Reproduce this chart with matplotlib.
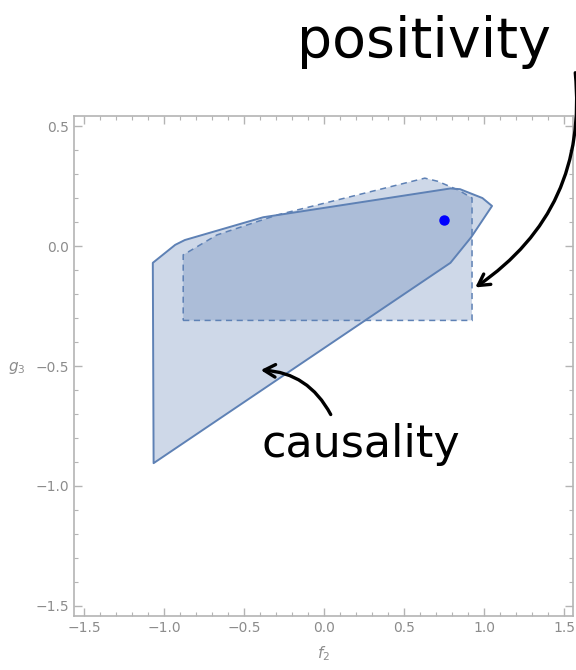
import matplotlib
matplotlib.use("Agg")
import matplotlib.pyplot as plt
from matplotlib.patches import Polygon
from matplotlib.ticker import MultipleLocator

# --- data ---
# causality region (solid outline)
causal_f2 = [-1.07, -0.93, -0.87, -0.38, 0.79, 0.85, 0.99, 1.05, 1.02, 0.92, 0.79, -1.065]
causal_g3 = [-0.07, 0.005, 0.025, 0.12, 0.24, 0.237, 0.20, 0.167, 0.137, 0.037, -0.07, -0.905]

# positivity region (dashed outline)
pos_f2 = [-0.88, 0.925, 0.925, 0.84, 0.71, 0.63, -0.29, -0.67, -0.88]
pos_g3 = [-0.31, -0.31, 0.20, 0.233, 0.27, 0.283, 0.13, 0.046, -0.037]

# marked point
pt_f2 = [0.75]
pt_g3 = [0.108]

edge = "#5e81b5"
gray = "#8c8c8c"
frame_col = "#b4b4b4"

fig = plt.figure(figsize=(5.76, 6.70), dpi=100)
ax = fig.add_axes([74 / 576, 54 / 670, 499 / 576, 500 / 670])

ax.add_patch(Polygon(list(zip(causal_f2, causal_g3)), closed=True,
                     facecolor=edge, alpha=0.3, edgecolor="none"))
ax.add_patch(Polygon(list(zip(pos_f2, pos_g3)), closed=True,
                     facecolor=edge, alpha=0.3, edgecolor="none"))
ax.add_patch(Polygon(list(zip(causal_f2, causal_g3)), closed=True,
                     fill=False, edgecolor=edge, lw=1.4, joinstyle="round"))
ax.add_patch(Polygon(list(zip(pos_f2, pos_g3)), closed=True,
                     fill=False, edgecolor=edge, lw=1.1, linestyle=(0, (4, 3))))
ax.plot(pt_f2, pt_g3, "o", color="#0000ff", markersize=6.5)

ax.set_xlim(-1.5625, 1.556)
ax.set_ylim(-1.542, 0.542)

ax.xaxis.set_major_locator(MultipleLocator(0.5))
ax.xaxis.set_minor_locator(MultipleLocator(0.1))
ax.yaxis.set_major_locator(MultipleLocator(0.5))
ax.yaxis.set_minor_locator(MultipleLocator(0.1))
ax.tick_params(which="both", direction="in", top=True, right=True,
               colors=frame_col, labelcolor=gray, labelsize=10)
ax.tick_params(which="major", length=6, width=1)
ax.tick_params(which="minor", length=3, width=0.8)
for s in ax.spines.values():
    s.set_color(frame_col)
    s.set_linewidth(1.2)

ax.set_xlabel("$f_2$", color=gray, fontsize=11, labelpad=7)
ax.set_ylabel("$g_3$", color=gray, fontsize=11, rotation=0)
ax.yaxis.set_label_coords(-0.115, 0.48)

# handwritten notes
fig.text(297, 628, "positivity", transform=None, fontsize=40, family="DejaVu Sans",
         color="black", ha="left", va="center")
fig.text(261, 226, "causality", transform=None, fontsize=32, family="DejaVu Sans",
         color="black", ha="left", va="center")

arrow = dict(arrowstyle="->,head_length=0.8,head_width=0.45", color="black", lw=2.4)
ax.annotate("", xy=(473, 381), xycoords="figure pixels",
            xytext=(575, 600), textcoords="figure pixels",
            arrowprops=dict(arrow, connectionstyle="arc3,rad=-0.3"))
ax.annotate("", xy=(258, 300), xycoords="figure pixels",
            xytext=(332, 253), textcoords="figure pixels",
            arrowprops=dict(arrow, connectionstyle="arc3,rad=0.3"))

fig.savefig("out.png", dpi=100)
